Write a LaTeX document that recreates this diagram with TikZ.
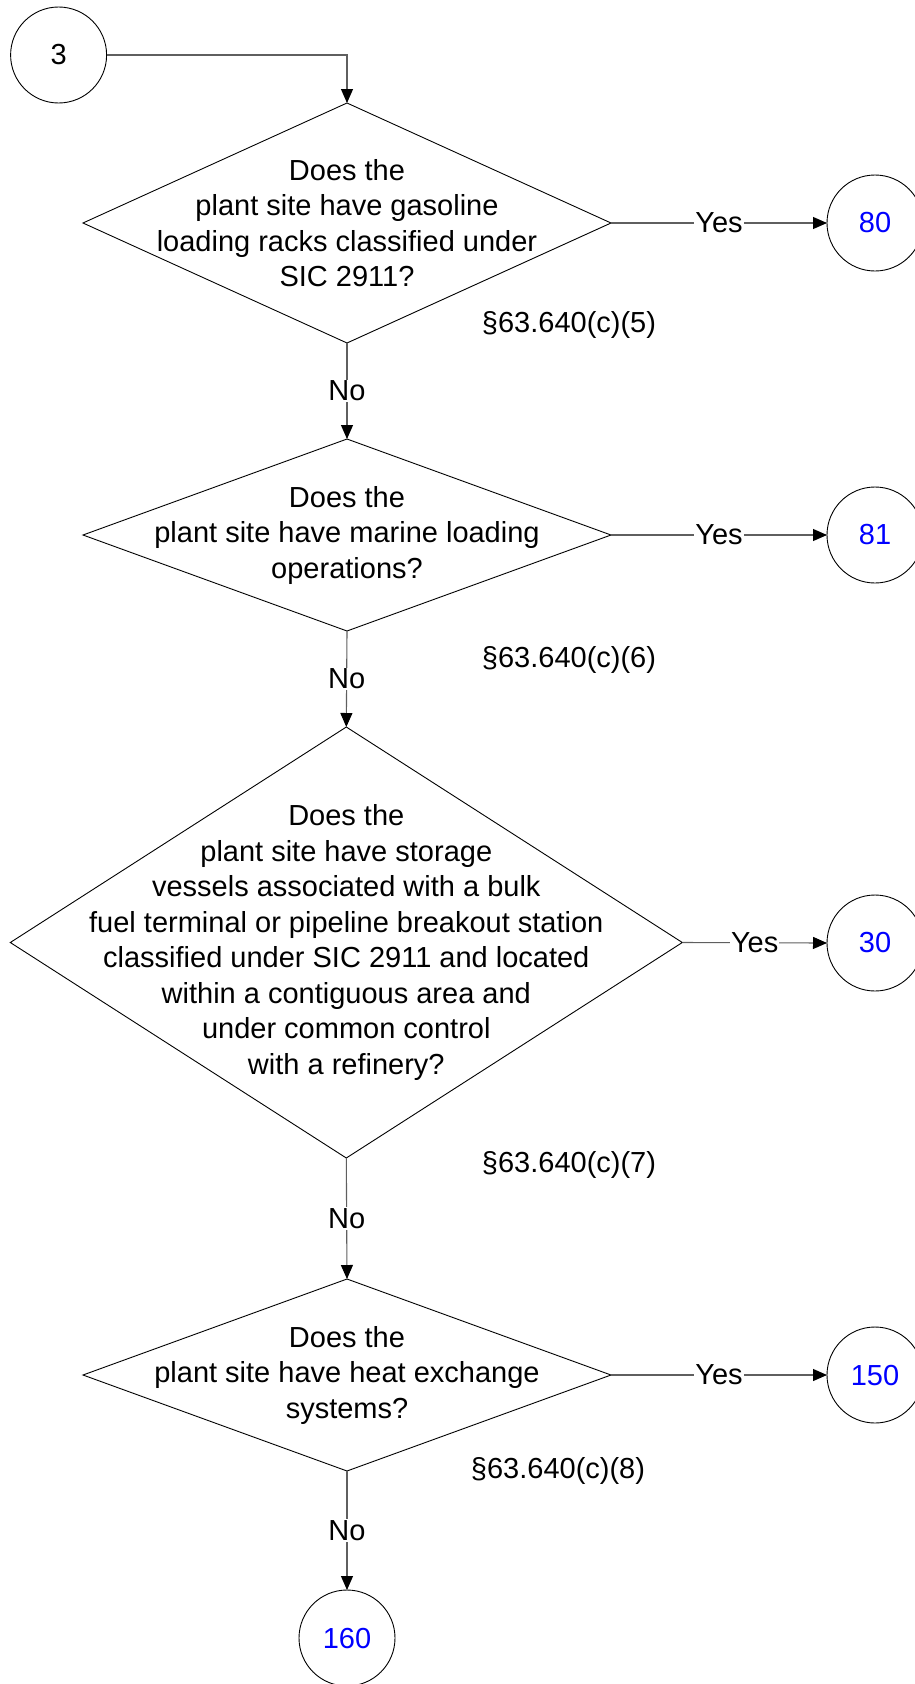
\documentclass[tikz,border=0pt]{standalone}
\usepackage{fontspec}
\setmainfont{Liberation Sans}
\usetikzlibrary{shapes.geometric,arrows.meta}
\definecolor{linkblue}{RGB}{0,0,255}
\definecolor{conn}{RGB}{95,95,95}
\begin{document}
\begin{tikzpicture}[x=1pt,y=-1pt,
  every node/.style={font=\fontsize{29}{35.5}\selectfont},
  dia/.style={shape=diamond,draw=black,line width=0.9pt,inner sep=0pt,outer sep=0pt},
  qtext/.style={align=center,inner sep=0pt},
  conncircle/.style={shape=circle,draw=black,line width=0.9pt,minimum size=96pt,inner sep=0pt,outer sep=0pt},
  ref/.style={font=\fontsize{29}{35}\selectfont,inner sep=0pt},
  lbl/.style={fill=white,inner sep=1pt},
  flow/.style={draw=conn,line width=1.1pt,-{Triangle[length=14pt,width=12pt,black]}}]
\useasboundingbox (0,0) rectangle (914,1684);

% start connector
\node[conncircle] (c3) at (58.6,55) {3};

% decision 1
\node[dia,minimum width=528pt,minimum height=240pt] (d1) at (347,223) {};
\node[qtext] (t1) at (347,223) {Does the\\plant site have gasoline\\loading racks classified under\\SIC 2911?};
\node[conncircle,text=linkblue] (c80) at (875,223) {80};
\node[ref] (s5) at (569,325) {§63.640(c)(5)};

% decision 2
\node[dia,minimum width=528pt,minimum height=192pt] (d2) at (347,535) {};
\node[qtext] (t2) at (347,535) {Does the\\plant site have marine loading\\operations?};
\node[conncircle,text=linkblue] (c81) at (875,535) {81};
\node[ref] (s6) at (569,660) {§63.640(c)(6)};

% decision 3
\node[dia,minimum width=672pt,minimum height=431pt] (d3) at (346.3,942.5) {};
\node[qtext] (t3) at (346.3,942.5) {Does the\\plant site have storage\\vessels associated with a bulk\\fuel terminal or pipeline breakout station\\classified under SIC 2911 and located\\within a contiguous area and\\under common control\\with a refinery?};
\node[conncircle,text=linkblue] (c30) at (875,943) {30};
\node[ref] (s7) at (569,1165) {§63.640(c)(7)};

% decision 4
\node[dia,minimum width=528pt,minimum height=192pt] (d4) at (347,1375) {};
\node[qtext] (t4) at (347,1375) {Does the\\plant site have heat exchange\\systems?};
\node[conncircle,text=linkblue] (c150) at (875,1375) {150};
\node[ref] (s8) at (558,1471) {§63.640(c)(8)};

\node[conncircle,text=linkblue] (c160) at (347,1638) {160};

% connectors
\draw[flow] (c3.east) -| (d1.north);
\draw[flow] (d1.east) -- node[lbl] (y1) {Yes} (c80.west);
\draw[flow] (d1.south) -- node[lbl] (n1) {No} (d2.north);
\draw[flow] (d2.east) -- node[lbl] (y2) {Yes} (c81.west);
\draw[flow] (d2.south) -- node[lbl] (n2) {No} (d3.north);
\draw[flow] (d3.east) -- node[lbl] (y3) {Yes} (c30.west);
\draw[flow] (d3.south) -- node[lbl] (n3) {No} (d4.north);
\draw[flow] (d4.east) -- node[lbl] (y4) {Yes} (c150.west);
\draw[flow] (d4.south) -- node[lbl] (n4) {No} (c160.north);
\end{tikzpicture}
\end{document}
